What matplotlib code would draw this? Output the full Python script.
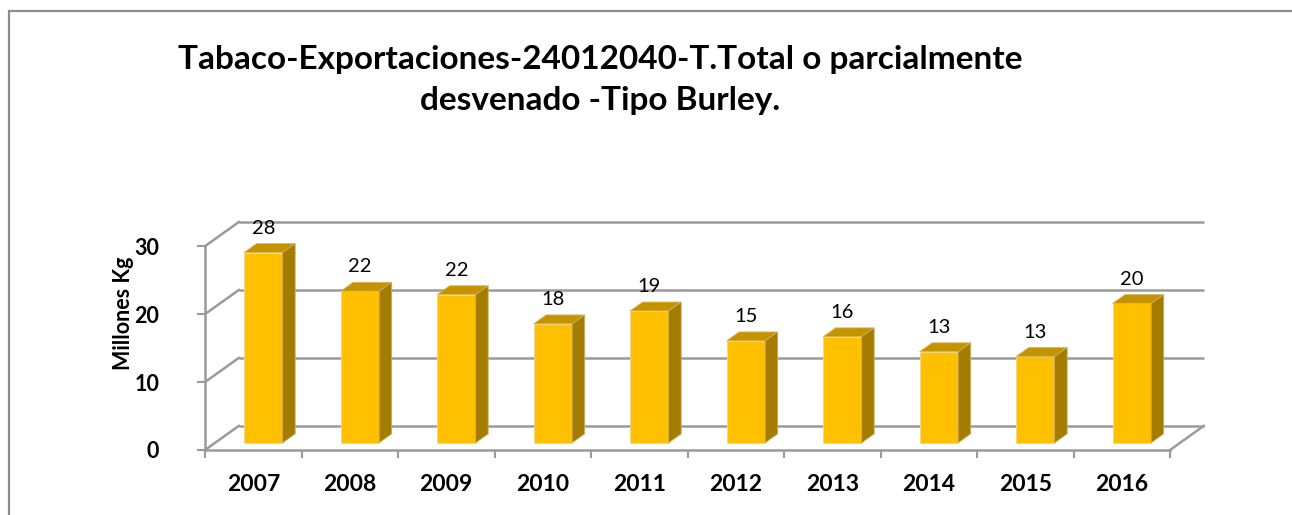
import matplotlib.pyplot as plt
from matplotlib.patches import Polygon, Rectangle

years = ["2007", "2008", "2009", "2010", "2011", "2012", "2013", "2014", "2015", "2016"]
values = [28.0, 22.3, 21.8, 17.5, 19.4, 15.0, 15.6, 13.4, 12.7, 20.5]
labels = ["28", "22", "22", "18", "19", "15", "16", "13", "13", "20"]
yticks = [0, 10, 20, 30]

title = "Tabaco-Exportaciones-24012040-T.Total o parcialmente\ndesvenado -Tipo Burley."
ylabel = "Millones Kg"

plt.rcParams['font.family'] = ['Lato', 'DejaVu Sans']

grid_c = "#9a9a9a"
front_c = "#FFC000"
top_c = "#C49400"
side_c = "#A47C00"

# depth of the fake 3d box, in data units
dx, dy = 0.35, 3.55
f0, fd = 0.30, 0.37
w = 0.40

fig = plt.figure(figsize=(12.92, 5.15), dpi=100)
fig.patches.append(Rectangle((9 / 1292, -0.1), 1.2, (515 - 11) / 515 + 0.1,
                             transform=fig.transFigure, fill=False,
                             edgecolor="#8c8c8c", lw=1.6))

ax = fig.add_axes([205 / 1292, 65 / 515, 965 / 1292, 231 / 515])
ax.set_xlim(0, len(years))
ax.set_ylim(0, 34)

# back wall gridlines + left wall diagonals
for v in yticks:
    ax.plot([dx, len(years) + dx], [v + dy, v + dy], color=grid_c, lw=1.8,
            clip_on=False, zorder=1, solid_capstyle="butt")
    ax.plot([0, dx], [v, v + dy], color=grid_c, lw=1.8, clip_on=False, zorder=1)
ax.plot([len(years), len(years) + dx], [0, dy], color=grid_c, lw=1.8,
        clip_on=False, zorder=1)

# bars
for i, v in enumerate(values):
    x0 = i + 0.5 - w / 2 + f0 * dx
    y0 = f0 * dy
    ddx, ddy = fd * dx, fd * dy
    ax.add_patch(Rectangle((x0, y0), w, v, facecolor=front_c,
                           edgecolor="#f3d98a", lw=0.6, zorder=3))
    ax.add_patch(Polygon([(x0, y0 + v), (x0 + w, y0 + v),
                          (x0 + w + ddx, y0 + v + ddy), (x0 + ddx, y0 + v + ddy)],
                         closed=True, facecolor=top_c, edgecolor="#d9b860",
                         lw=0.6, zorder=3))
    ax.add_patch(Polygon([(x0 + w, y0), (x0 + w + ddx, y0 + ddy),
                          (x0 + w + ddx, y0 + v + ddy), (x0 + w, y0 + v)],
                         closed=True, facecolor=side_c, edgecolor="#c9ad66",
                         lw=0.6, zorder=3))
    ax.text(x0 + w / 2, v + y0 + ddy + 1.45, labels[i], ha="center",
            va="baseline", fontsize=14.5, color="black")

for s in ["top", "right"]:
    ax.spines[s].set_visible(False)
for s in ["left", "bottom"]:
    ax.spines[s].set_color(grid_c)
    ax.spines[s].set_linewidth(1.8)
ax.spines["left"].set_bounds(0, 30)
ax.spines["bottom"].set_bounds(0, len(years))

ax.set_yticks(yticks)
ax.set_yticklabels([str(t) for t in yticks], fontsize=15.5, fontweight="bold")
ax.tick_params(axis="y", length=6, width=1.5, color=grid_c, pad=27)

ax.set_xticks(range(len(years) + 1))
ax.set_xticklabels([])
ax.set_xticks([i + 0.5 for i in range(len(years))], minor=True)
ax.set_xticklabels(years, minor=True, fontsize=16.5, fontweight="bold")
ax.tick_params(axis="x", which="major", length=6, width=1.5, color=grid_c)
ax.tick_params(axis="x", which="minor", length=0, pad=17)

ax.set_ylabel(ylabel, fontsize=15.5, fontweight="bold")
ax.yaxis.set_label_coords(-0.074, 0.593)
ax.patch.set_visible(False)

fig.text(600 / 1292, 1 - 80 / 515, title, ha="center", va="center",
         fontsize=24, fontweight="bold", linespacing=1.52)

fig.savefig("out.png", dpi=100)
